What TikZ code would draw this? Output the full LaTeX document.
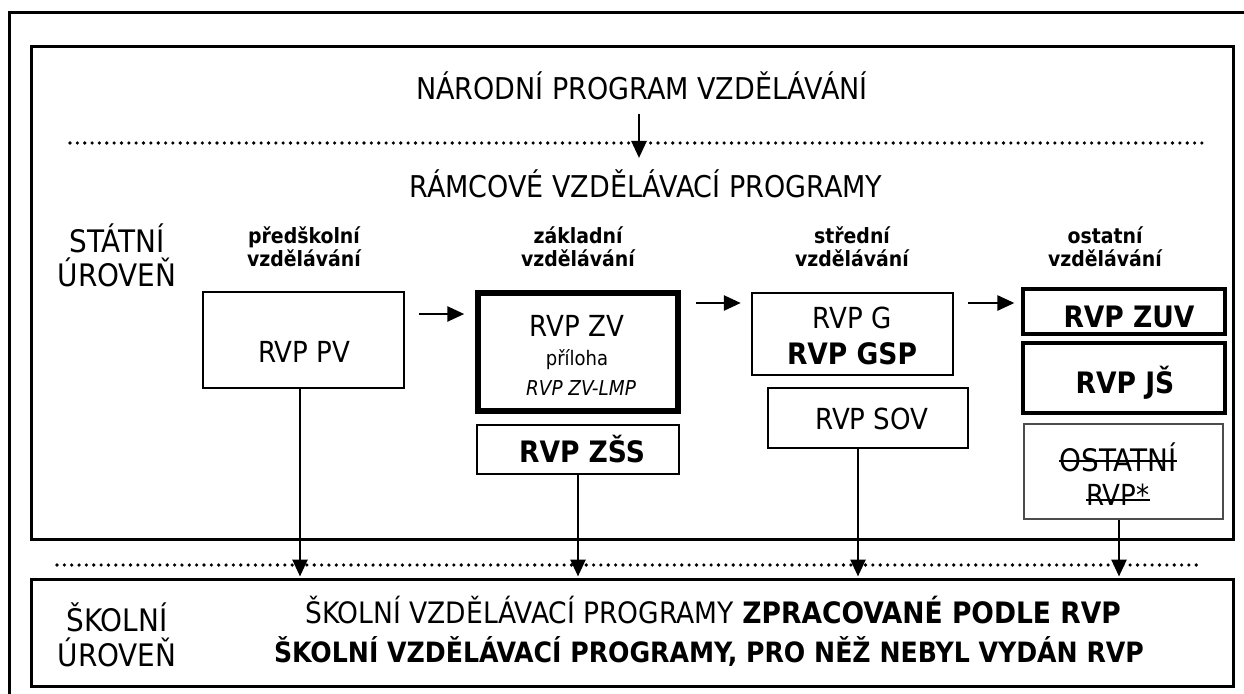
\documentclass[tikz,border=0pt]{standalone}
\usepackage{fontspec}
\setmainfont{DejaVu Sans Condensed}[BoldFont={DejaVu Sans Condensed Bold},ItalicFont={DejaVu Sans Condensed Oblique}]
\usetikzlibrary{arrows.meta}
\begin{document}
\begin{tikzpicture}[x=1pt,y=-1pt,
  bx/.style={draw, line width=2.4pt, inner sep=0pt},
  thickbx/.style={draw, line width=5.5pt, inner sep=0pt},
  medbx/.style={draw, line width=3.2pt, inner sep=0pt},
  graybx/.style={draw=black!70, line width=1.5pt, inner sep=0pt},
  frame/.style={draw, line width=3pt, inner sep=0pt},
  txt/.style={inner sep=0pt, anchor=base},
  big/.style={txt, font=\fontsize{30}{34}\selectfont},
  lvl/.style={txt, font=\fontsize{31}{34}\selectfont},
  reg/.style={txt, font=\fontsize{29}{32}\selectfont},
  regb/.style={txt, font=\fontsize{29.5}{32}\selectfont\bfseries},
  hdr/.style={txt, font=\fontsize{21}{23}\selectfont\bfseries},
  small/.style={txt, font=\fontsize{20}{23}\selectfont},
  smallit/.style={txt, font=\fontsize{20.5}{23}\selectfont\itshape},
  strike/.style={line width=1.6pt},
  arr/.style={line width=2.6pt, -{Triangle[length=17pt,width=15pt]}},
  dots/.style={line width=3.6pt, line cap=round, dash pattern=on 0pt off 7.35pt}
]
\useasboundingbox (0,0) rectangle (1244,693);
\clip (0,0) rectangle (1244,693);
% outer frame
\draw[line width=3pt] (9,705) -- (9,13) -- (1260,13);
% state and school frames
\node[frame, minimum width=1202pt, minimum height=492pt] (state) at (632,293) {};
\node[frame, minimum width=1202pt, minimum height=107pt] (school) at (632,632.5) {};
% dotted lines
\draw[dots] (70,143) -- (1203,143);
\draw[dots] (57,565) -- (1198,565);
% titles
\node[big] (npv) at (642,99) {NÁRODNÍ PROGRAM VZDĚLÁVÁNÍ};
\node[big] (rvp) at (646,197) {RÁMCOVÉ VZDĚLÁVACÍ PROGRAMY};
\node[lvl] (st1) at (117,252) {STÁTNÍ};
\node[lvl] (st2) at (117,286) {ÚROVEŇ};
% headers
\node[hdr] (h1a) at (304,243) {předškolní};
\node[hdr] (h1b) at (304,266) {vzdělávání};
\node[hdr] (h2a) at (578,243) {základní};
\node[hdr] (h2b) at (578,266) {vzdělávání};
\node[hdr] (h3a) at (852,243) {střední};
\node[hdr] (h3b) at (852,266) {vzdělávání};
\node[hdr] (h4a) at (1105,243) {ostatní};
\node[hdr] (h4b) at (1105,266) {vzdělávání};
% boxes
\node[bx, minimum width=201pt, minimum height=96pt] (pv) at (303.5,340) {};
\node[thickbx, minimum width=200pt, minimum height=118pt] (zv) at (578,352) {};
\node[bx, minimum width=202pt, minimum height=49pt] (zss) at (578,449.5) {};
\node[bx, minimum width=201pt, minimum height=82pt] (g) at (852.5,334) {};
\node[bx, minimum width=200pt, minimum height=60pt] (sov) at (868,418) {};
\node[medbx, minimum width=202pt, minimum height=45pt] (zuv) at (1124,311.5) {};
\node[medbx, minimum width=202pt, minimum height=70pt] (js) at (1124,378) {};
\node[graybx, minimum width=199pt, minimum height=95pt] (ost) at (1123.5,471.5) {};
% box texts
\node[reg] (pvT) at (304,362) {RVP PV};
\node[reg] (zvT) at (577,336) {RVP ZV};
\node[small] (prT) at (577,365) {příloha};
\node[smallit] (lmpT) at (581,395) {RVP ZV-LMP};
\node[regb] (zssT) at (582,462) {RVP ZŠS};
\node[reg] (gT) at (852,328) {RVP G};
\node[regb] (gspT) at (852,364) {RVP GSP};
\node[reg] (sovT) at (872,429) {RVP SOV};
\node[regb] (zuvT) at (1129,327) {RVP ZUV};
\node[regb] (jsT) at (1125,393) {RVP JŠ};
\node[lvl] (ostT) at (1118,471) {OSTATNÍ};
\node[reg] (ost2T) at (1118,505) {RVP*};
\draw[strike] ([yshift=10pt]ostT.base west) -- ([yshift=10pt]ostT.base east);
\draw[strike] ([yshift=5pt]ost2T.base west) -- ([yshift=5pt]ost2T.base east);
% school texts
\node[lvl] (sk1) at (117,631) {ŠKOLNÍ};
\node[lvl] (sk2) at (117,666) {ÚROVEŇ};
\node[txt, font=\fontsize{29.5}{32}\selectfont] (m1) at (713,623) {ŠKOLNÍ VZDĚLÁVACÍ PROGRAMY \textbf{ZPRACOVANÉ PODLE RVP}};
\node[txt, font=\fontsize{28}{32}\selectfont\bfseries] (m2) at (709,662) {ŠKOLNÍ VZDĚLÁVACÍ PROGRAMY, PRO NĚŽ NEBYL VYDÁN RVP};
% arrows
\draw[arr, shorten <=14pt, shorten >=11pt] ([xshift=-3pt]npv.south) -- ([xshift=-7pt]rvp.north);
\draw[arr, shorten <=14pt, shorten >=11pt] (pv.east |- 0,314) -- (zv.west |- 0,314);
\draw[arr, shorten <=15pt, shorten >=10pt] (zv.east |- 0,303) -- (g.west |- 0,303);
\draw[arr, shorten <=14pt, shorten >=7pt] (g.east |- 0,303) -- (zuv.west |- 0,303);
\draw[arr, shorten >=1pt] ([xshift=-3.5pt]pv.south) -- ([xshift=-3.5pt]pv.south |- school.north);
\draw[arr, shorten >=1pt] (zss.south) -- (zss.south |- school.north);
\draw[arr, shorten >=1pt] ([xshift=-10pt]sov.south) -- ([xshift=-10pt]sov.south |- school.north);
\draw[arr, shorten >=1pt] ([xshift=-4.5pt]ost.south) -- ([xshift=-4.5pt]ost.south |- school.north);
\end{tikzpicture}
\end{document}
